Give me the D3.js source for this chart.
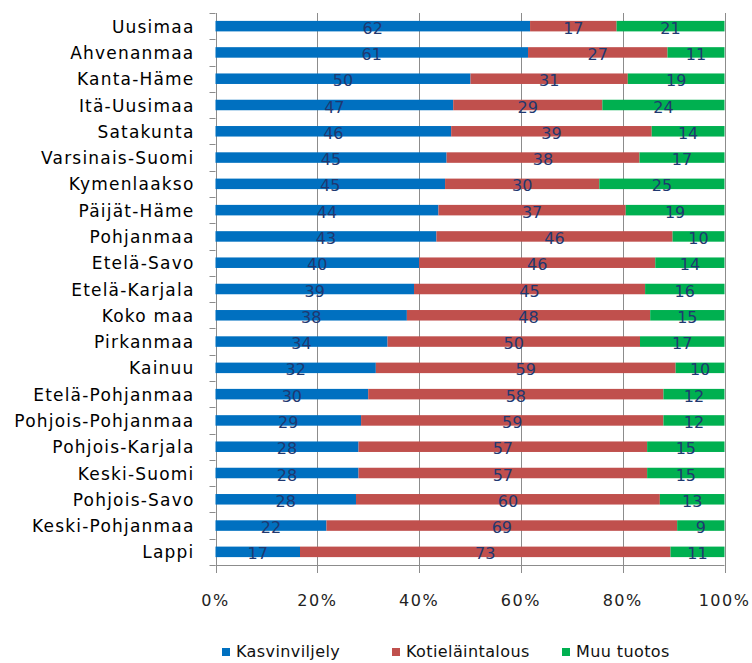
<!DOCTYPE html>
<html>
<head>
<meta charset="utf-8">
<script src="https://cdn.jsdelivr.net/npm/d3@7"></script>
<style>
  html, body { margin: 0; padding: 0; background: #fff; }
  svg { display: block; }
  text { font-family: "DejaVu Sans", Verdana, sans-serif; }
</style>
</head>
<body>
<svg id="chart" width="752" height="663"></svg>
<script>
const categories = ["Uusimaa","Ahvenanmaa","Kanta-Häme","Itä-Uusimaa","Satakunta","Varsinais-Suomi","Kymenlaakso","Päijät-Häme","Pohjanmaa","Etelä-Savo","Etelä-Karjala","Koko maa","Pirkanmaa","Kainuu","Etelä-Pohjanmaa","Pohjois-Pohjanmaa","Pohjois-Karjala","Keski-Suomi","Pohjois-Savo","Keski-Pohjanmaa","Lappi"];
const kasvinviljely   = [61.8,61.4,50.1,46.7,46.3,45.4,45.1,43.8,43.4,40.0,39.0,37.6,33.8,31.5,30.0,28.6,28.1,28.1,27.6,21.8,16.6];
const kotielaintalous = [17.0,27.4,30.9,29.3,39.4,37.9,30.3,36.8,46.4,46.4,45.4,47.8,49.6,58.9,58.0,59.4,56.7,56.7,59.7,68.9,72.8];
const muuTuotos       = [21.2,11.2,19.0,24.0,14.3,16.7,24.6,19.4,10.2,13.6,15.6,14.6,16.6, 9.6,12.0,12.0,15.2,15.2,12.7, 9.3,10.6];
const seriesNames = ["Kasvinviljely","Kotieläintalous","Muu tuotos"];
const seriesColors = ["#0070C0","#C0504D","#00B050"];
const xTicks = [0,20,40,60,80,100];
const xTickLabels = ["0%","20%","40%","60%","80%","100%"];

const svg = d3.select("#chart");
const margin = {left: 215.5, right: 27.5, top: 13, bottom: 98};
const W = 752, H = 663;
const x = d3.scaleLinear().domain([0,100]).range([margin.left, W - margin.right]);
const y = d3.scaleBand().domain(categories).range([margin.top, H - margin.bottom]).paddingInner(0.6).paddingOuter(0.3);
const yb = d3.scaleBand().domain(categories).range([margin.top, H - margin.bottom]);

const rows = categories.map((c,i) => ({cat: c, s0: kasvinviljely[i], s1: kotielaintalous[i], s2: muuTuotos[i]}));
const stack = d3.stack().keys(["s0","s1","s2"]);
const stacked = stack(rows);

const gridColor = "#8c8c8c";
const plotBottom = H - margin.bottom;

// gridlines
svg.append("g").selectAll("line").data(xTicks).join("line")
  .attr("x1", d => Math.round(x(d)) + 0.5).attr("x2", d => Math.round(x(d)) + 0.5)
  .attr("y1", margin.top).attr("y2", plotBottom + 8)
  .attr("stroke", gridColor).attr("stroke-width", 1);

// x-axis line
svg.append("line").attr("x1", x(0)).attr("x2", x(100))
  .attr("y1", plotBottom + 0.5).attr("y2", plotBottom + 0.5)
  .attr("stroke", gridColor);

// y-axis ticks (at band boundaries)
const yBounds = categories.map(c => yb(c)).concat([plotBottom]);
svg.append("g").selectAll("line").data(yBounds).join("line")
  .attr("x1", x(0) - 6).attr("x2", x(0))
  .attr("y1", d => Math.round(d) + 0.5).attr("y2", d => Math.round(d) + 0.5)
  .attr("stroke", gridColor);

// bars
const layers = svg.append("g").selectAll("g").data(stacked).join("g")
  .attr("fill", (d,i) => seriesColors[i]);
layers.selectAll("rect").data(d => d).join("rect")
  .attr("x", d => x(d[0]))
  .attr("width", d => x(d[1]) - x(d[0]))
  .attr("y", d => y(d.data.cat))
  .attr("height", y.bandwidth());

// data labels
const lbl = svg.append("g");
stacked.forEach((layer) => {
  lbl.selectAll(null).data(layer).join("text")
    .attr("x", d => (x(d[0]) + x(d[1])) / 2)
    .attr("y", d => y(d.data.cat) + y.bandwidth()/2 + 7.5)
    .attr("text-anchor", "middle")
    .attr("font-size", 16)
    .attr("fill", "#1F3870")
    .text(d => Math.round(d[1] - d[0]));
});

// category labels
svg.append("g").selectAll("text").data(categories).join("text")
  .attr("x", x(0) - 21)
  .attr("y", d => yb(d) + yb.bandwidth()/2 + 6.5)
  .attr("text-anchor", "end")
  .attr("font-size", 17)
  .attr("letter-spacing", "1.2px")
  .attr("fill", "#000")
  .text(d => d);

// x tick labels
svg.append("g").selectAll("text").data(xTicks).join("text")
  .attr("x", d => x(d))
  .attr("y", plotBottom + 41)
  .attr("text-anchor", "middle")
  .attr("font-size", 16)
  .attr("letter-spacing", "1.5px")
  .attr("fill", "#222")
  .text((d,i) => xTickLabels[i]);

// legend
const legendX = d3.scalePoint().domain(seriesNames).range([222, 562]);
const legend = svg.append("g").selectAll("g").data(seriesNames).join("g")
  .attr("transform", d => `translate(${legendX(d)},0)`);
legend.append("rect").attr("x", 0).attr("y", 648).attr("width", 8).attr("height", 8)
  .attr("fill", (d,i) => seriesColors[i]);
legend.append("text").attr("x", 14).attr("y", 657)
  .attr("font-size", 16).attr("letter-spacing", "0.4px").attr("fill", "#111").text(d => d);
</script>
</body>
</html>
